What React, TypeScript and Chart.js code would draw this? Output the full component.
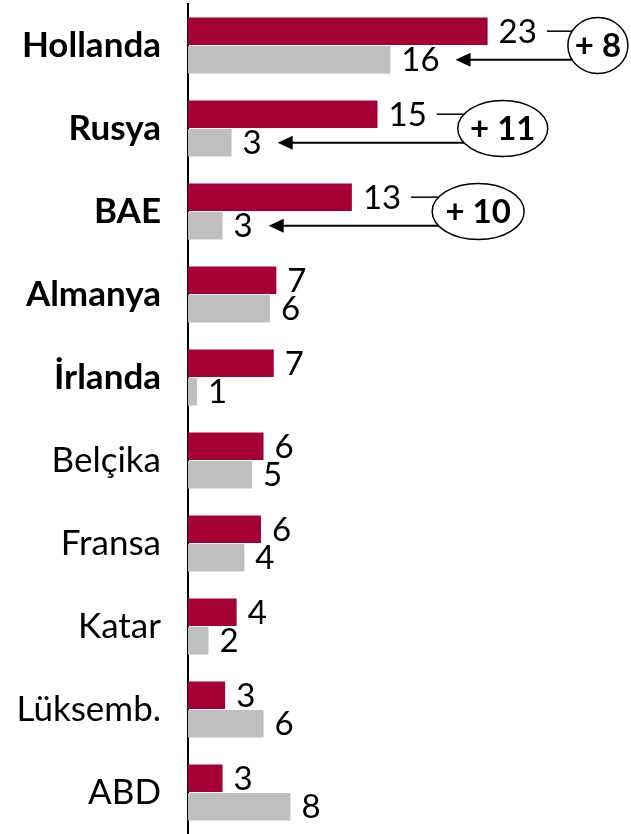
import React, { useEffect, useRef } from "react";
import { Chart, registerables } from "chart.js";

Chart.register(...registerables);

const categories = ["Hollanda", "Rusya", "BAE", "Almanya", "İrlanda", "Belçika", "Fransa", "Katar", "Lüksemb.", "ABD"];
const seriesCurrent = [23.4, 14.8, 12.8, 6.9, 6.7, 5.9, 5.7, 3.8, 2.9, 2.7];
const seriesPrevious = [15.8, 3.4, 2.7, 6.4, 0.7, 5.0, 4.4, 1.6, 5.9, 8.0];
const boldCount = 5;
const annotatedIndices = [0, 1, 2];

const RED = "#A50034";
const GREY = "#BFBFBF";
const FONT = "Lato, 'Open Sans', sans-serif";
const VALUE_SIZE = 33;
const ELLIPSE_RX = [30, 45, 46];
const ELLIPSE_RY = 28;

const labelsPlugin = {
  id: "valueLabelsAndAnnotations",
  afterDatasetsDraw(chart: any) {
    const ctx = chart.ctx as CanvasRenderingContext2D;
    const m0 = chart.getDatasetMeta(0);
    const m1 = chart.getDatasetMeta(1);
    ctx.save();
    ctx.font = `normal ${VALUE_SIZE}px ${FONT}`;
    ctx.fillStyle = "#000";
    ctx.textAlign = "left";
    ctx.textBaseline = "middle";
    const labelEnds: number[][] = [[], []];
    [m0, m1].forEach((meta: any, di: number) => {
      const data = chart.data.datasets[di].data as number[];
      meta.data.forEach((el: any, i: number) => {
        const txt = String(Math.round(data[i]));
        const x = el.x + 11;
        ctx.fillText(txt, x, el.y + 1);
        labelEnds[di][i] = x + ctx.measureText(txt).width;
      });
    });

    annotatedIndices.forEach((i, k) => {
      const red = m0.data[i];
      const grey = m1.data[i];
      const cy = (red.y + grey.y) / 2;
      const rx = ELLIPSE_RX[k];
      const ry = ELLIPSE_RY;
      const cx = labelEnds[0][i] + 31 + rx;
      const bx = (y: number) => cx - rx * Math.sqrt(Math.max(0, 1 - ((y - cy) / ry) ** 2));
      ctx.strokeStyle = "#000";
      ctx.fillStyle = "#000";
      ctx.lineWidth = 1.5;
      ctx.beginPath();
      ctx.moveTo(labelEnds[0][i] + 10, red.y);
      ctx.lineTo(bx(red.y), red.y);
      ctx.stroke();
      const tip = labelEnds[1][i] + 16;
      const ay = grey.y;
      ctx.lineWidth = 2;
      ctx.beginPath();
      ctx.moveTo(bx(ay), ay);
      ctx.lineTo(tip + 12, ay);
      ctx.stroke();
      ctx.beginPath();
      ctx.moveTo(tip, ay);
      ctx.lineTo(tip + 15, ay - 7);
      ctx.lineTo(tip + 15, ay + 7);
      ctx.closePath();
      ctx.fill();
      ctx.beginPath();
      ctx.ellipse(cx, cy, rx, ry, 0, 0, Math.PI * 2);
      ctx.fillStyle = "#fff";
      ctx.fill();
      ctx.lineWidth = 1.5;
      ctx.stroke();
      const diff = Math.round(seriesCurrent[i] - seriesPrevious[i]);
      ctx.fillStyle = "#000";
      ctx.font = `bold 33px ${FONT}`;
      ctx.textAlign = "center";
      ctx.fillText(`+ ${diff}`, cx, cy + 1);
      ctx.font = `normal ${VALUE_SIZE}px ${FONT}`;
      ctx.textAlign = "left";
    });
    ctx.restore();
  },
};

export default function App() {
  const ref = useRef<HTMLCanvasElement | null>(null);
  useEffect(() => {
    if (!ref.current) return;
    const chart = new Chart(ref.current, {
      type: "bar",
      data: {
        labels: categories,
        datasets: [
          { data: seriesCurrent, backgroundColor: RED, barPercentage: 0.96, categoryPercentage: 0.69 },
          { data: seriesPrevious, backgroundColor: GREY, barPercentage: 0.96, categoryPercentage: 0.69 },
        ],
      },
      options: {
        indexAxis: "y",
        responsive: false,
        animation: false,
        devicePixelRatio: 1,
        layout: { padding: { top: 4, left: 0, right: 0, bottom: 0 } },
        plugins: { legend: { display: false }, tooltip: { enabled: false } },
        scales: {
          x: { display: false, min: 0, max: 34.6 },
          y: {
            afterFit: (s: any) => {
              s.width = 188;
              s.paddingTop = 0;
              s.paddingBottom = 0;
            },
            grid: {
              display: true,
              drawOnChartArea: false,
              drawTicks: true,
              tickLength: 27,
              tickColor: "rgba(0,0,0,0)",
              color: "rgba(0,0,0,0)",
            },
            border: { display: true, color: "#000", width: 2 },
            ticks: {
              padding: 0,
              color: "#000",
              font: (c: any) => ({
                family: FONT,
                size: 35,
                weight: c.index < boldCount ? "bold" : "normal",
              }),
            },
          },
        },
      },
      plugins: [labelsPlugin],
    });
    return () => chart.destroy();
  }, []);
  return (
    <div style={{ position: "absolute", left: 0, top: 0, width: 631, height: 834, background: "#fff" }}>
      <canvas ref={ref} width={631} height={834} />
    </div>
  );
}
